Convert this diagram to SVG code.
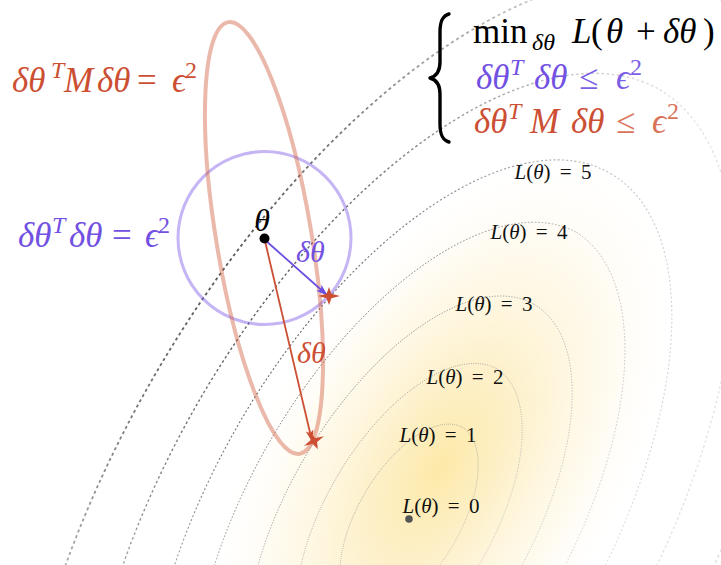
<svg xmlns="http://www.w3.org/2000/svg" width="721" height="565" viewBox="0 0 721 565">
<defs>
  <radialGradient id="glow" cx="0.5" cy="0.5" r="0.5">
    <stop offset="0" stop-color="#fde9a8"/>
    <stop offset="0.3" stop-color="#fdefc4" stop-opacity="0.9"/>
    <stop offset="0.65" stop-color="#fef6df" stop-opacity="0.6"/>
    <stop offset="1" stop-color="#ffffff" stop-opacity="0"/>
  </radialGradient>
  <radialGradient id="fade" gradientUnits="userSpaceOnUse" cx="240" cy="280" r="470">
    <stop offset="0" stop-color="#555555"/>
    <stop offset="0.35" stop-color="#777777"/>
    <stop offset="0.7" stop-color="#aaaaaa"/>
    <stop offset="1" stop-color="#e3e3e3"/>
  </radialGradient>
  <marker id="ahB" viewBox="0 0 12 8" refX="11" refY="4" markerWidth="12" markerHeight="8" markerUnits="userSpaceOnUse" orient="auto">
    <path d="M0,0 L12,4 L0,8 L3,4 Z" fill="#6e4ee0"/>
  </marker>
  <marker id="ahR" viewBox="0 0 12 8" refX="11" refY="4" markerWidth="12" markerHeight="8" markerUnits="userSpaceOnUse" orient="auto">
    <path d="M0,0 L12,4 L0,8 L3,4 Z" fill="#cc4f33"/>
  </marker>
  <path id="star" d="M-11,0 L-2.4,-2.2 L0,-9 L2.4,-2.2 L11,0 L2.4,2.2 L0,9 L-2.4,2.2 Z"/>
</defs>
<style>
  .m { font-family: "Liberation Serif", "DejaVu Serif", serif; }
  .i { font-style: italic; }
  .c { fill: none; stroke: url(#fade); }
  .lab { font-family: "Liberation Serif", "DejaVu Serif", serif; font-size: 21px; fill: #111; word-spacing: 4px; }
  .red { fill: #cc4f33; }
  .redl { fill: #d9735a; }
  .blu { fill: #7150e2; }
  .blul { fill: #7d5fe6; }
</style>
<rect width="721" height="565" fill="#ffffff"/>
<g id="glow-area">
  <ellipse cx="440" cy="468" rx="360" ry="190" transform="rotate(-59.7 440 468)" fill="url(#glow)"/>
</g>
<g id="contours">
  <path class="c" stroke-width="0.7" stroke-dasharray="1 1" d="M462.5,427.5 A106,51.7 -59.7 0 1 355.5,610.5 A106,51.7 -59.7 0 1 462.5,427.5 Z"/>
  <path class="c" stroke-width="0.8" stroke-dasharray="1 1.3" d="M496.8,368.8 A174,84.8 -59.7 0 1 321.2,669.2 A174,84.8 -59.7 0 1 496.8,368.8 Z"/>
  <path class="c" stroke-width="0.9" stroke-dasharray="1.3 1.5" d="M534.3,304.5 A248.4,121.1 -59.7 0 1 283.7,733.5 A248.4,121.1 -59.7 0 1 534.3,304.5 Z"/>
  <path class="c" stroke-width="1" stroke-dasharray="1.6 1.8" d="M576.5,232.4 A332,161.9 -59.7 0 1 241.5,805.6 A332,161.9 -59.7 0 1 576.5,232.4 Z"/>
  <path class="c" stroke-width="1.1" stroke-dasharray="2 2.2" d="M610.8,173.6 A400,195 -59.7 0 1 207.2,864.4 A400,195 -59.7 0 1 610.8,173.6 Z"/>
  <path class="c" stroke-width="1.4" stroke-dasharray="2.5 2.6" d="M659.8,89.7 A497.2,242.4 -59.7 0 1 158.2,948.3 A497.2,242.4 -59.7 0 1 659.8,89.7 Z"/>
  <path class="c" stroke-width="1.8" stroke-dasharray="3 3" d="M714.7,-4.2 A606,295.4 -59.7 0 1 103.3,1042.2 A606,295.4 -59.7 0 1 714.7,-4.2 Z"/>
</g>
<g id="contour-labels">
  <text class="lab" x="553" y="179" text-anchor="middle"><tspan class="i">L</tspan>(<tspan class="i">θ</tspan>) = 5</text>
  <text class="lab" x="529" y="239" text-anchor="middle"><tspan class="i">L</tspan>(<tspan class="i">θ</tspan>) = 4</text>
  <text class="lab" x="494" y="311" text-anchor="middle"><tspan class="i">L</tspan>(<tspan class="i">θ</tspan>) = 3</text>
  <text class="lab" x="465" y="384" text-anchor="middle"><tspan class="i">L</tspan>(<tspan class="i">θ</tspan>) = 2</text>
  <text class="lab" x="438" y="442" text-anchor="middle"><tspan class="i">L</tspan>(<tspan class="i">θ</tspan>) = 1</text>
  <text class="lab" x="441" y="513" text-anchor="middle"><tspan class="i">L</tspan>(<tspan class="i">θ</tspan>) = 0</text>
</g>
<g id="minimum">
  <circle cx="409" cy="519" r="3.8" fill="#555"/>
</g>
<g id="euclid-ball">
  <circle cx="264.5" cy="238" r="86.5" fill="none" stroke="#7e5ce6" stroke-opacity="0.45" stroke-width="3"/>
</g>
<g id="metric-ball">
  <path d="M299.7,453.9 A218.8,47.6 80.6 0 1 228.3,22.1 A218.8,47.6 80.6 0 1 299.7,453.9 Z" fill="none" stroke="#d0573a" stroke-opacity="0.42" stroke-width="4"/>
</g>
<g id="connectors">
  <line x1="265" y1="240" x2="327" y2="295" stroke="#6e4ee0" stroke-width="1.8" marker-end="url(#ahB)"/>
  <line x1="265" y1="241" x2="312" y2="441" stroke="#cc4f33" stroke-width="1.8" marker-end="url(#ahR)"/>
</g>
<g id="steps">
  <use href="#star" transform="translate(329 296)" fill="#cc4f33"/>
  <use href="#star" transform="translate(314 441) rotate(-25)" fill="#cc4f33"/>
</g>
<g id="theta">
  <circle cx="264.5" cy="238.5" r="5" fill="#000"/>
  <text class="m i" x="262" y="231" font-size="32" text-anchor="middle">θ</text>
</g>
<g id="step-labels">
  <text class="m i blu" x="296" y="262" font-size="30">δθ</text>
  <text class="m i red" x="297" y="363" font-size="30">δθ</text>
</g>
<g id="ball-labels">
  <text class="m red" y="92" font-size="35"><tspan class="i" x="12">δθ</tspan><tspan class="i" x="51" y="78" font-size="24">T</tspan><tspan class="i" x="64" y="92">M</tspan><tspan class="i" x="97">δθ</tspan><tspan x="137">=</tspan><tspan class="i" x="172">ϵ</tspan><tspan x="185" y="78" font-size="24">2</tspan></text>
  <text class="m blu" y="247" font-size="35"><tspan class="i" x="18">δθ</tspan><tspan class="i" x="52" y="233" font-size="24">T</tspan><tspan class="i" x="69" y="247">δθ</tspan><tspan x="112">=</tspan><tspan class="i" x="145">ϵ</tspan><tspan x="158" y="233" font-size="24">2</tspan></text>
</g>
<g id="problem">
  <path d="M449,14 C442,16 440,22 440,32 L440,62 C440,71 437,76 430,78 C437,80 440,85 440,94 L440,124 C440,134 442,140 449,142" fill="none" stroke="#000" stroke-width="3.4" stroke-linecap="round" stroke-linejoin="round"/>
  <text class="m" y="43" font-size="35" fill="#000"><tspan x="473">min</tspan><tspan class="i" x="532" y="50" font-size="24">δθ</tspan><tspan class="i" x="572" y="43">L</tspan><tspan x="591">(</tspan><tspan class="i" x="606">θ</tspan><tspan x="636">+</tspan><tspan class="i" x="663">δθ</tspan><tspan x="703">)</tspan></text>
  <text class="m blu" y="89" font-size="35"><tspan class="i" x="476">δθ</tspan><tspan class="i" x="510" y="75" font-size="24">T</tspan><tspan class="i" x="534" y="89">δθ</tspan><tspan class="blul" x="579">≤</tspan><tspan class="i blul" x="616">ϵ</tspan><tspan class="blul" x="630" y="75" font-size="24">2</tspan></text>
  <text class="m red" y="133" font-size="35"><tspan class="i" x="474">δθ</tspan><tspan class="i" x="508" y="119" font-size="24">T</tspan><tspan class="i" x="530" y="133">M</tspan><tspan class="i" x="571">δθ</tspan><tspan class="redl" x="616">≤</tspan><tspan class="i redl" x="652">ϵ</tspan><tspan class="redl" x="667" y="119" font-size="24">2</tspan></text>
</g>
</svg>
